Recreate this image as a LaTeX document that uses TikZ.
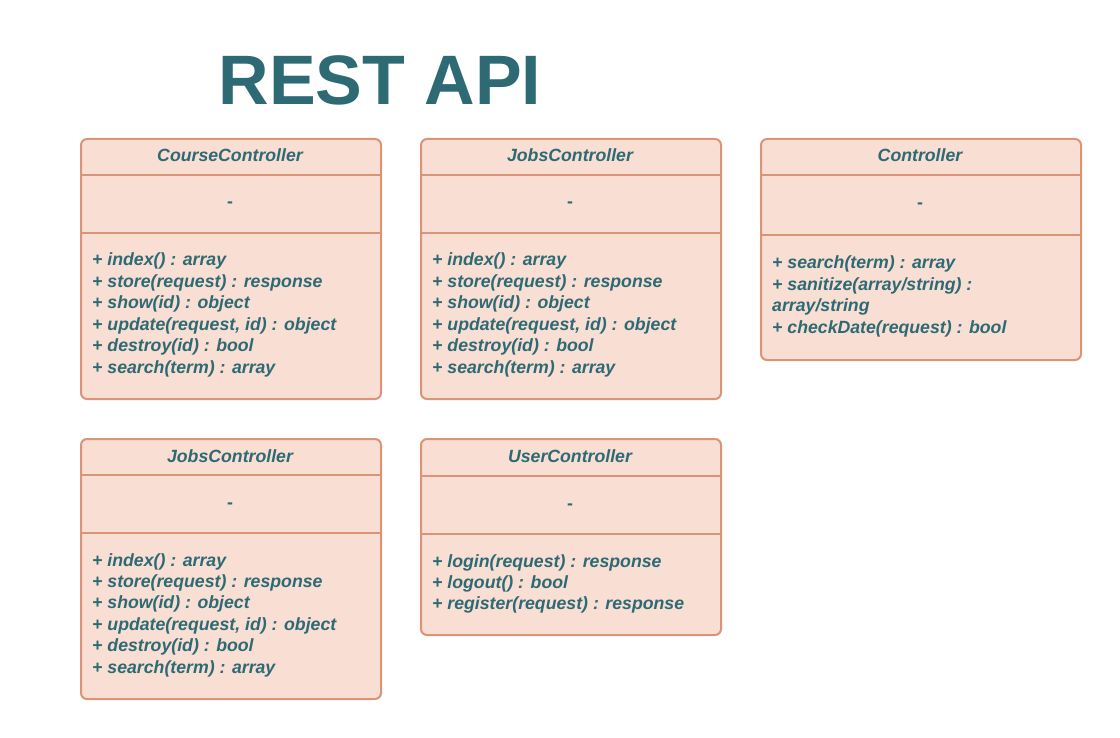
\documentclass[tikz,border=0pt]{standalone}
\usepackage{fontspec}
\setmainfont{Liberation Sans}
\definecolor{txt}{HTML}{2D6A74}
\definecolor{edge}{HTML}{DA9477}
\definecolor{boxfill}{HTML}{F9DED3}
\begin{document}
\begin{tikzpicture}[x=1pt,y=-1pt,
  umlbox/.style={draw=edge,fill=boxfill,line width=2pt,rounded corners=6pt,rectangle,anchor=north west,inner sep=0pt},
  div/.style={draw=edge,line width=2pt},
  hdr/.style={text=txt,font=\fontsize{17.7}{21}\selectfont\bfseries\itshape,anchor=base,inner sep=0pt},
  dashtxt/.style={text=txt,font=\fontsize{17.7}{21}\selectfont\bfseries,anchor=base,inner sep=0pt},
  meth/.style={text=txt,font=\fontsize{17.7}{21}\selectfont\bfseries\itshape,anchor=base west,inner sep=0pt},
  ttl/.style={text=txt,font=\fontsize{70}{80}\selectfont\bfseries,anchor=base,inner sep=0pt}]
\useasboundingbox[fill=white] (0,0) rectangle (1120,738);
\node[ttl] (title) at (380,105) {REST API};
% Box 1
\node[umlbox,minimum width=300pt,minimum height=260pt] (b1) at (80,138) {};
\draw[div] ([yshift=-37pt]b1.north west) -- ([yshift=-37pt]b1.north east);
\draw[div] ([yshift=-95pt]b1.north west) -- ([yshift=-95pt]b1.north east);
\node[hdr] (h1) at (230,162) {CourseController};
\node[dashtxt] (d1) at (230,208) {-};
\foreach \t [count=\i] in {{+ index() : array},{+ store(request) : response},{+ show(id) : object},{+ update(request, id) : object},{+ destroy(id) : bool},{+ search(term) : array}}
  \node[meth] (m1-\i) at (92,{266+21.4*(\i-1)}) {\t};
% Box 2
\node[umlbox,minimum width=300pt,minimum height=260pt] (b2) at (420,138) {};
\draw[div] ([yshift=-37pt]b2.north west) -- ([yshift=-37pt]b2.north east);
\draw[div] ([yshift=-95pt]b2.north west) -- ([yshift=-95pt]b2.north east);
\node[hdr] (h2) at (570,162) {JobsController};
\node[dashtxt] (d2) at (570,208) {-};
\foreach \t [count=\i] in {{+ index() : array},{+ store(request) : response},{+ show(id) : object},{+ update(request, id) : object},{+ destroy(id) : bool},{+ search(term) : array}}
  \node[meth] (m2-\i) at (432,{266+21.4*(\i-1)}) {\t};
% Box 3
\node[umlbox,minimum width=320pt,minimum height=221pt] (b3) at (760,138) {};
\draw[div] ([yshift=-37pt]b3.north west) -- ([yshift=-37pt]b3.north east);
\draw[div] ([yshift=-97pt]b3.north west) -- ([yshift=-97pt]b3.north east);
\node[hdr] (h3) at (920,162) {Controller};
\node[dashtxt] (d3) at (920,209) {-};
\foreach \t [count=\i] in {{+ search(term) : array},{+ sanitize(array/string) :},{array/string},{+ checkDate(request) : bool}}
  \node[meth] (m3-\i) at (772,{269+21.4*(\i-1)}) {\t};
% Box 4
\node[umlbox,minimum width=300pt,minimum height=260pt] (b4) at (80,438) {};
\draw[div] ([yshift=-37pt]b4.north west) -- ([yshift=-37pt]b4.north east);
\draw[div] ([yshift=-95pt]b4.north west) -- ([yshift=-95pt]b4.north east);
\node[hdr] (h4) at (230,462) {JobsController};
\node[dashtxt] (d4) at (230,508) {-};
\foreach \t [count=\i] in {{+ index() : array},{+ store(request) : response},{+ show(id) : object},{+ update(request, id) : object},{+ destroy(id) : bool},{+ search(term) : array}}
  \node[meth] (m4-\i) at (92,{566+21.4*(\i-1)}) {\t};
% Box 5
\node[umlbox,minimum width=300pt,minimum height=196pt] (b5) at (420,438) {};
\draw[div] ([yshift=-38pt]b5.north west) -- ([yshift=-38pt]b5.north east);
\draw[div] ([yshift=-96pt]b5.north west) -- ([yshift=-96pt]b5.north east);
\node[hdr] (h5) at (570,462) {UserController};
\node[dashtxt] (d5) at (570,509) {-};
\foreach \t [count=\i] in {{+ login(request) : response},{+ logout() : bool},{+ register(request) : response}}
  \node[meth] (m5-\i) at (432,{567+21.4*(\i-1)}) {\t};
\end{tikzpicture}
\end{document}
